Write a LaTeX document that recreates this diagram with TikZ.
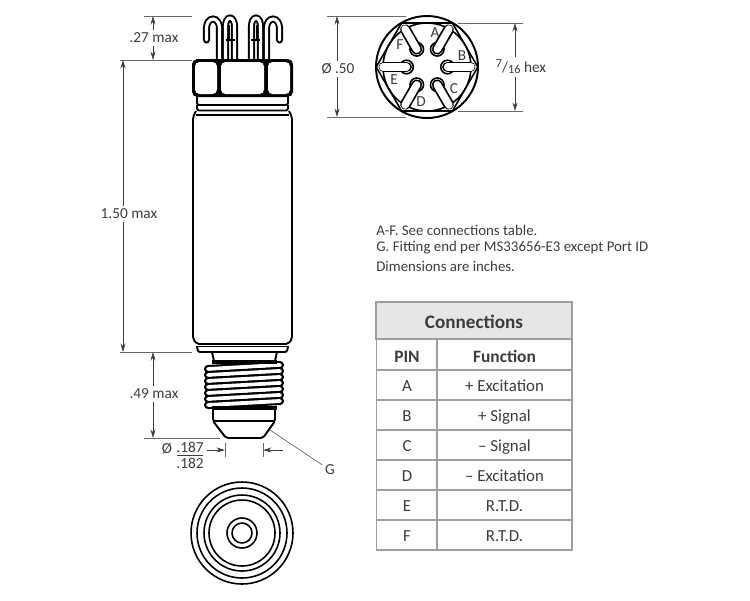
\documentclass[tikz,border=0pt]{standalone}
\usepackage{fontspec}
\setmainfont{Carlito}
\usetikzlibrary{arrows.meta}
\definecolor{inkgray}{HTML}{3C3C3C}
\definecolor{dimgray}{HTML}{6A6A6A}
\definecolor{cellgray}{HTML}{9E9E9E}
\definecolor{headgray}{HTML}{E6E6E6}
\tikzset{
  part/.style={line width=1.1pt,color=black,rounded corners=1.2pt},
  thinpart/.style={line width=.9pt,color=black},
  extline/.style={line width=.4pt,color=dimgray},
  dimline/.style={line width=.4pt,color=inkgray,-{Stealth[length=1.7mm,width=1mm]}},
  dimtext/.style={text=inkgray,inner sep=1.5pt,font=\fontsize{8.7}{10}\selectfont},
  notetext/.style={text=inkgray,anchor=west,inner sep=0pt,font=\fontsize{8.45}{10}\selectfont},
  cell/.style={draw=cellgray,line width=.8pt,minimum height=.6cm,inner sep=0pt,text=inkgray,text height=1.6ex,text depth=.1ex,font=\fontsize{9.6}{11}\selectfont},
  pincell/.style={cell,minimum width=1.22cm},
  funccell/.style={cell,minimum width=2.7cm},
  wire/.style={line width=1.1pt,double=white,double distance=1.8pt,line cap=round,color=black},
  face/.style={fill=white,draw=none,rounded corners=2.5pt},
}
\begin{document}
\begin{tikzpicture}[x=.02cm,y=-.02cm]
  \useasboundingbox (0,0) rectangle (750,600);

  % terminals
  \draw[wire] (206.5,40) -- (206.5,28) arc[start angle=180,end angle=360,x radius=6.5,y radius=9] -- (219.5,60);
  \draw[wire] (225.5,60) -- (225.5,26) arc[start angle=180,end angle=360,x radius=4.5,y radius=8] -- (234.5,60);
  \draw[line width=1.6pt] (229,25) -- (229,40);
  \draw[thinpart] (226,40) -- (235,40);
  \draw[wire] (279.5,40) -- (279.5,28) arc[start angle=0,end angle=-180,x radius=6.5,y radius=9] -- (266.5,60);
  \draw[wire] (260.5,60) -- (260.5,26) arc[start angle=0,end angle=-180,x radius=4.5,y radius=8] -- (251.5,60);
  \draw[line width=1.6pt] (257,25) -- (257,40);
  \draw[thinpart] (251,40) -- (260,40);

  % hex nut
  \fill[rounded corners=3pt] (192,59) rectangle (293,97);
  \fill[face] (195,62) rectangle (217,94);
  \fill[face] (221,62) rectangle (264,94);
  \fill[face] (268,62) rectangle (290,94);

  % neck and body
  \draw[part] (197,96) -- (197,105) -- (288,105) -- (288,96);
  \draw[part] (197,105) -- (197,110.5) -- (288,110.5) -- (288,105);
  \draw[part] (196,115) -- (289,115);
  \draw[part] (196,111) -- (193,117) -- (193,339) -- (197,344) -- (288,344) -- (292,339) -- (292,117) -- (289,111);
  \draw[thinpart] (197,346.5) -- (288,346.5);
  \draw[part] (197,346) -- (198,352) -- (287,352) -- (288,346);

  % fitting with its thread
  \draw[part] (212,352) -- (214,361);
  \draw[part] (277,352) -- (275,361);
  \foreach \i in {0,...,6} {
    \draw[line width=4.6pt,line cap=round] (208,{367+\i*6+2}) -- (280,{367+\i*6-2});
    \draw[line width=2.2pt,color=white,line cap=round] (208,{367+\i*6+2}) -- (280,{367+\i*6-2});
  }
  \draw[line width=1.8pt] (212,362) -- (277,362);
  \draw[line width=1.8pt] (212,408) -- (277,408);
  \draw[part] (213,408) -- (213,421) -- (226,438) -- (263,438) -- (275,421) -- (275,408);
  \draw[part] (213,421) -- (275,421);

  % dimensions on the left
  \coordinate (top27) at (153,16);
  \coordinate (bot27) at (153,60);
  \coordinate (top150) at (123,60);
  \coordinate (bot150) at (123,352);
  \coordinate (top49) at (153,352);
  \coordinate (bot49) at (153,438);
  \draw[extline] (144,16) -- (192,16);
  \draw[extline] (120,60) -- (192,60);
  \draw[extline] (120,352) -- (192,352);
  \draw[extline] (144,438) -- (220,438);
  \node[dimtext] (lab27) at (154,38) {.27 max};
  \node[dimtext] (lab150) at (129,214) {1.50 max};
  \node[dimtext] (lab49) at (154,394) {.49 max};
  \draw[dimline] (top27 |- lab27.north) -- (top27);
  \draw[dimline] (top27 |- lab27.south) -- (bot27);
  \draw[dimline] (top150 |- lab150.north) -- (top150);
  \draw[dimline] (top150 |- lab150.south) -- (bot150);
  \draw[dimline] (top49 |- lab49.north) -- (top49);
  \draw[dimline] (top49 |- lab49.south) -- (bot49);

  % nose diameter
  \coordinate (noseL) at (225,450);
  \coordinate (noseR) at (263,450);
  \coordinate (tailL) at (207,450);
  \coordinate (tailR) at (283,450);
  \draw[extline] (225,443) -- (225,457);
  \draw[extline] (263,443) -- (263,457);
  \draw[dimline] (tailL) -- (noseL);
  \draw[dimline] (tailR) -- (noseR);
  \node[dimtext] (diaNose) at (167,449) {Ø};
  \node[dimtext] (upper) at (190,447) {.187};
  \node[dimtext] (lower) at (190,463) {.182};
  \draw[extline,color=inkgray] (177,455.5) -- (203,455.5);

  % fitting callout
  \coordinate (gTip) at (270,430);
  \node[dimtext] (gLab) at (330,470) {G};
  \draw[extline] (gTip) -- (gLab);

  % end view of the fitting
  \foreach \r in {51,45,38,33,15,10}
    \draw[thinpart] (242,533) circle[radius=\r];

  % end view of the connector
  \draw[part] (427,67) circle[radius=51];
  \draw[thinpart] (427,67) circle[radius=44];
  \draw[thinpart] (376.2,67) -- (401.6,23) -- (452.4,23) -- (477.8,67) -- (452.4,111) -- (401.6,111) -- cycle;
  \foreach \a in {0,60,...,300} {
    \begin{scope}[shift={(427,67)}]
      \draw[thinpart,fill=white] (\a:20.5) circle[radius=6.8];
      \draw[line width=6.2pt,line cap=round] (\a:20.5) -- (\a:43);
      \draw[line width=4.2pt,color=white,line cap=round] (\a:20.5) -- (\a:44);
    \end{scope}
  }
  \node[dimtext,inner sep=0pt] (pinA) at (435,33) {A};
  \node[dimtext,inner sep=0pt] (pinB) at (462,56) {B};
  \node[dimtext,inner sep=0pt] (pinC) at (454,89) {C};
  \node[dimtext,inner sep=0pt] (pinD) at (421,102) {D};
  \node[dimtext,inner sep=0pt] (pinE) at (394,80) {E};
  \node[dimtext,inner sep=0pt] (pinF) at (400,45) {F};

  % dimensions of the end view
  \coordinate (top50) at (337,16);
  \coordinate (bot50) at (337,117);
  \coordinate (top716) at (515,23);
  \coordinate (bot716) at (515,111);
  \draw[extline] (327,16) -- (406,16);
  \draw[extline] (327,117) -- (406,117);
  \draw[extline] (458,23) -- (523,23);
  \draw[extline] (458,111) -- (523,111);
  \node[dimtext] (lab50) at (338,69) {Ø .50};
  \node[dimtext] (lab716) at (521,67) {\raisebox{2.5pt}{\fontsize{7}{8}\selectfont 7}/\raisebox{-1pt}{\fontsize{7}{8}\selectfont 16} hex};
  \draw[dimline] (top50 |- lab50.north) -- (top50);
  \draw[dimline] (top50 |- lab50.south) -- (bot50);
  \draw[dimline] (top716 |- lab716.north) -- (top716);
  \draw[dimline] (top716 |- lab716.south) -- (bot716);

  % notes
  \node[notetext] (note1) at (376,230) {A-F. See connections table.};
  \node[notetext] (note2) at (376,248) {G. Fitting end per MS33656-E3 except Port ID};
  \node[notetext] (note3) at (376,266) {Dimensions are inches.};

  % connections table
  \node[cell,fill=headgray,minimum width=3.92cm,minimum height=.74cm,text height=1.9ex,text depth=0pt,font=\fontsize{10.9}{12}\selectfont\bfseries] (head) at (474,320.5) {Connections};
  \node[pincell,minimum height=.62cm,text height=1.9ex,text depth=0pt,font=\fontsize{9.9}{11}\selectfont\bfseries] (pinhead) at (407,354.5) {PIN};
  \node[funccell,minimum height=.62cm,text height=1.9ex,text depth=0pt,font=\fontsize{9.9}{11}\selectfont\bfseries] (funchead) at (504.5,354.5) {Function};
  \foreach \y/\p/\f in {385/A/+ Excitation,415/B/+ Signal,445/C/– Signal,475/D/– Excitation,505/E/R.T.D.,535/F/R.T.D.} {
    \node[pincell] (pin\p) at (407,\y) {\p};
    \node[funccell] (func\p) at (504.5,\y) {\f};
  }
\end{tikzpicture}
\end{document}
